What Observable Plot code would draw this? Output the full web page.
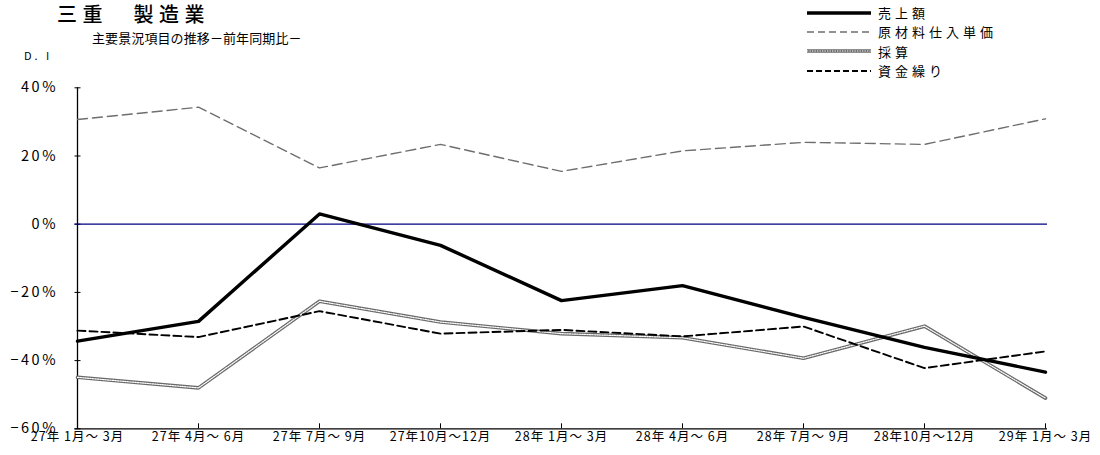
<!DOCTYPE html>
<html lang="ja">
<head>
<meta charset="utf-8">
<script src="https://cdn.jsdelivr.net/npm/d3@7"></script>
<script src="https://cdn.jsdelivr.net/npm/@observablehq/plot@0.6"></script>
<style>
  html, body { margin: 0; padding: 0; background: #fff; }
  #wrap { position: relative; width: 1100px; height: 455px; overflow: hidden;
          font-family: "Noto Sans CJK JP", "Noto Sans", sans-serif; color: #000; }
  #title { position: absolute; left: 57px; top: 3px; font-size: 20px; line-height: 1.1; font-weight: 500; letter-spacing: 5.5px; white-space: pre; }
  #subtitle { position: absolute; left: 92px; top: 28px; font-size: 13px; letter-spacing: 0.1px; }
  #unit { position: absolute; left: 24px; top: 47px; font-size: 11px; letter-spacing: 3px; }
  #legend { position: absolute; left: 806px; top: 3px; }
  .row { display: flex; align-items: center; height: 19.3px; }
  .row span { font-size: 13px; letter-spacing: 4px; margin-left: 6px; }
  #chart { position: absolute; left: 0; top: 0; }
  .xaxis text { letter-spacing: 1px; }
  .yaxis text { letter-spacing: 2.5px; }
</style>
</head>
<body>
<div id="wrap">
  <div id="chart"></div>
  <div id="title">三重　製造業</div>
  <div id="subtitle">主要景況項目の推移－前年同期比－</div>
  <div id="unit">D. I</div>
  <div id="legend"></div>
</div>
<script>
// Quarters (period labels)
const categories = [
  "27年 1月～ 3月", "27年 4月～ 6月", "27年 7月～ 9月", "27年10月～12月",
  "28年 1月～ 3月", "28年 4月～ 6月", "28年 7月～ 9月", "28年10月～12月",
  "29年 1月～ 3月"
];

// D.I. values (%) per series
const seriesNames = ["売上額", "原材料仕入単価", "採算", "資金繰り"];
const sales        = [-34.3, -28.5,   3.0,  -6.2, -22.4, -18.0, -27.3, -36.1, -43.4];
const materialCost = [ 30.7,  34.3,  16.5,  23.4,  15.5,  21.5,  24.0,  23.4,  30.9];
const profit       = [-44.9, -48.0, -22.6, -28.7, -32.1, -33.3, -39.3, -29.9, -51.0];
const cashflow     = [-31.2, -33.1, -25.5, -32.1, -31.0, -32.9, -30.0, -42.2, -37.3];

const yTicks = [-60, -40, -20, 0, 20, 40];

const valuesByName = {
  "売上額": sales,
  "原材料仕入単価": materialCost,
  "採算": profit,
  "資金繰り": cashflow
};

const rows = seriesNames.flatMap(name =>
  categories.map((q, i) => ({series: name, quarter: q, value: valuesByName[name][i]}))
);
const pick = name => rows.filter(d => d.series === name);

// layout
const W = 1100, H = 455;
const mLeft = 74.5, mRight = 53, mTop = 87.3, mBottom = 26.7;
const plotW = W - mLeft - mRight, plotH = H - mTop - mBottom;

const fmt = d => (d < 0 ? "\u2212" + Math.abs(d) : String(d)) + "%";

const chart = Plot.plot({
  width: W,
  height: H,
  marginLeft: mLeft,
  marginRight: mRight,
  marginTop: mTop,
  marginBottom: mBottom,
  style: {fontFamily: "'Noto Sans CJK JP', sans-serif", background: "transparent", color: "#000"},
  x: {type: "point", domain: categories, padding: 0, label: null},
  y: {domain: [-60, 40], label: null},
  marks: [
    Plot.axisY({ticks: yTicks, tickSize: 0, tickPadding: 17, tickFormat: fmt, fontSize: 14.5, label: null, className: "yaxis"}),
    Plot.axisX({tickSize: 0, tickPadding: 3, fontSize: 12.5, label: null, className: "xaxis"}),
    // inward tick marks
    Plot.tickY(yTicks, {y: d => d, insetRight: plotW - 6, stroke: "#000", strokeWidth: 1}),
    Plot.tickX(categories, {x: d => d, insetTop: plotH - 5, stroke: "#000", strokeWidth: 1}),
    // axis lines
    Plot.ruleX([categories[0]], {stroke: "#000", strokeWidth: 1.3}),
    Plot.ruleY([-60], {stroke: "#000", strokeWidth: 1.3}),
    // zero line
    Plot.ruleY([0], {stroke: "#000080", strokeWidth: 1.3}),
    // series
    Plot.line(pick("原材料仕入単価"), {x: "quarter", y: "value", stroke: "#6e6e6e", strokeWidth: 1.4, strokeDasharray: "10,5"}),
    Plot.line(pick("採算"), {x: "quarter", y: "value", stroke: "#6a6a6a", strokeWidth: 3.6}),
    Plot.line(pick("採算"), {x: "quarter", y: "value", stroke: "#ffffff", strokeWidth: 1.2, strokeDasharray: "1.3,1.2"}),
    Plot.line(pick("資金繰り"), {x: "quarter", y: "value", stroke: "#000", strokeWidth: 1.9, strokeDasharray: "8,4"}),
    Plot.line(pick("売上額"), {x: "quarter", y: "value", stroke: "#000", strokeWidth: 3.4})
  ]
});
document.getElementById("chart").appendChild(chart);

// legend
const legendStyles = {
  "売上額": [{stroke: "#000", width: 3.4, dash: null}],
  "原材料仕入単価": [{stroke: "#6e6e6e", width: 1.4, dash: "7,4"}],
  "採算": [{stroke: "#6a6a6a", width: 3.4, dash: null}, {stroke: "#fff", width: 1.1, dash: "1.3,1.2"}],
  "資金繰り": [{stroke: "#000", width: 1.9, dash: "6,3"}]
};
const legend = d3.select("#legend");
for (const name of seriesNames) {
  const row = legend.append("div").attr("class", "row");
  const svg = row.append("svg").attr("width", 66).attr("height", 8);
  for (const s of legendStyles[name]) {
    svg.append("line")
      .attr("x1", 1).attr("x2", 65).attr("y1", 4).attr("y2", 4)
      .attr("stroke", s.stroke).attr("stroke-width", s.width)
      .attr("stroke-dasharray", s.dash);
  }
  row.append("span").text(name);
}
</script>
</body>
</html>
